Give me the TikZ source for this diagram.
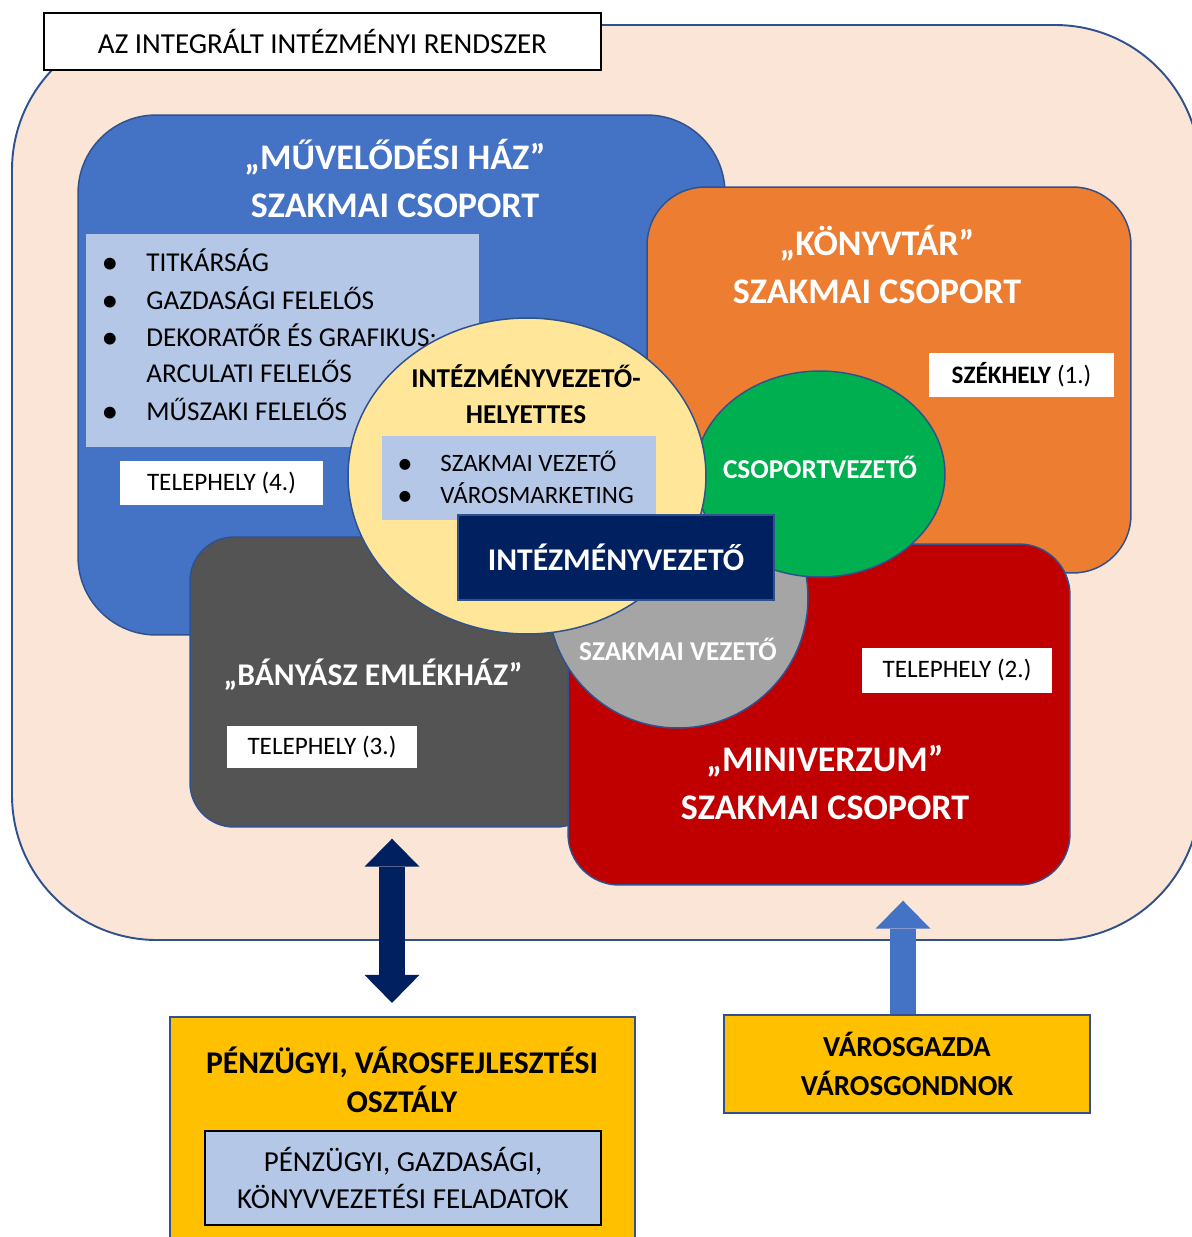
\documentclass[tikz,border=0pt]{standalone}
\usepackage{fontspec}
\setmainfont{Carlito}
\usetikzlibrary{arrows.meta,shapes.geometric,calc}

\definecolor{keret}{HTML}{2F528F}
\definecolor{hatter}{HTML}{FBE5D6}
\definecolor{kek}{HTML}{4472C4}
\definecolor{vilagkek}{HTML}{B4C7E7}
\definecolor{narancs}{HTML}{ED7D31}
\definecolor{sotetszurke}{HTML}{545454}
\definecolor{piros}{HTML}{C00000}
\definecolor{szurke}{HTML}{A5A5A5}
\definecolor{zold}{HTML}{00B050}
\definecolor{sarga}{HTML}{FFE699}
\definecolor{sotetkek}{HTML}{002060}
\definecolor{arany}{HTML}{FFC000}

\tikzset{
  csoport/.style={draw=keret, line width=0.85pt, inner sep=0pt},
  cim/.style={text=white, align=center, inner sep=0pt, font=\fontsize{20.5}{27}\selectfont\bfseries},
  feher/.style={text=white, inner sep=0pt, font=\fontsize{15.5}{19}\selectfont\bfseries},
  telep/.style={fill=white, inner sep=0pt, minimum height=0.88cm, font=\fontsize{14.3}{17}\selectfont},
  lista/.style={fill=vilagkek, inner sep=0pt},
  tetel/.style={anchor=base west, inner sep=0pt},
  pont/.style={inner sep=0pt, font=\fontsize{19}{19}\selectfont},
  kor/.style={ellipse, draw=keret, line width=0.85pt, inner sep=0pt},
  also/.style={fill=arany, draw=keret, line width=1.3pt, inner sep=0pt},
  tompa/.tip={Triangle[width=1.1cm, length=0.56cm, line width=0pt]},
  blokknyil/.style={line width=0.52cm},
}

\begin{document}
\begin{tikzpicture}[x=0.02cm, y=-0.02cm]
\useasboundingbox (0,0) rectangle (1192,1237);

% a rendszer hattere
\draw[keret, fill=hatter, line width=1.1pt, rounded corners=2.9cm] (12,25) rectangle (1200,940);
\node[draw=black, line width=1.1pt, fill=white, inner sep=0pt, minimum width=11.14cm, minimum height=1.14cm,
  font=\fontsize{16.5}{20}\selectfont] (rendszer) at (322.5,41.5) {AZ INTEGRÁLT INTÉZMÉNYI RENDSZER};

% muvelodesi haz
\node[csoport, fill=kek, rounded corners=1.56cm, minimum width=12.94cm, minimum height=10.4cm] (muvhaz) at (401.5,375) {};
\node[cim] (muvcim) at (395,178.5) {„MŰVELŐDÉSI HÁZ”\\SZAKMAI CSOPORT};
\node[lista, minimum width=7.86cm, minimum height=4.26cm] (muvlista) at (282.5,340.5) {};
\foreach \y/\t in {262/TITKÁRSÁG, 300/GAZDASÁGI FELELŐS, 337/DEKORATŐR ÉS GRAFIKUS:, 373/ARCULATI FELELŐS, 411/MŰSZAKI FELELŐS}
  \node[tetel, font=\fontsize{15.5}{19}\selectfont] (mh\y) at (146,\y+9) {\t};
\foreach \y in {262,300,337,411}
  \node[pont] (mhp\y) at (110,\y+4) {•};
\node[telep, minimum width=4.06cm] (telep4) at (221.5,483) {TELEPHELY (4.)};

% konyvtar
\node[csoport, fill=narancs, rounded corners=1.16cm, minimum width=9.68cm, minimum height=7.72cm] (konyvtar) at (889,380) {};
\node[cim] (konyvcim) at (877,264.5) {„KÖNYVTÁR”\\SZAKMAI CSOPORT};
\node[telep, minimum width=3.7cm] (szekhely) at (1021.5,375) {\textbf{SZÉKHELY} (1.)};

% banyasz emlekhaz
\node[csoport, fill=sotetszurke, rounded corners=0.88cm, minimum width=8.2cm, minimum height=5.8cm] (banyasz) at (395,682) {};
\node[cim, font=\fontsize{18}{22}\selectfont\bfseries] (banyaszcim) at (373,675) {„BÁNYÁSZ EMLÉKHÁZ”};
\node[telep, minimum width=3.8cm, minimum height=0.84cm] (telep3) at (322,747) {TELEPHELY (3.)};

% miniverzum
\node[csoport, fill=piros, rounded corners=1.02cm, minimum width=10.04cm, minimum height=6.82cm] (miniverzum) at (819,714.5) {};
\node[cim] (minicim) at (825,782.5) {„MINIVERZUM”\\SZAKMAI CSOPORT};
\node[telep, minimum width=3.8cm, minimum height=0.9cm] (telep2) at (957,670.5) {TELEPHELY (2.)};

% vezetok
\node[kor, fill=szurke, minimum width=5.2cm, minimum height=5.2cm] (szakvez) at (678,598) {};
\node[feher] (szakvezcim) at (678,649) {SZAKMAI VEZETŐ};
\node[kor, fill=zold, minimum width=5cm, minimum height=4.12cm] (csopvez) at (820,474) {};
\node[feher] (csopvezcim) at (820,467) {CSOPORTVEZETŐ};
\node[kor, fill=sarga, minimum width=7.16cm, minimum height=6.32cm] (helyettes) at (527,476) {};
\node[align=center, inner sep=0pt, font=\fontsize{15.5}{20.5}\selectfont\bfseries] (helycim) at (526,394) {INTÉZMÉNYVEZETŐ-\\HELYETTES};
\node[lista, minimum width=5.48cm, minimum height=1.68cm] (hlista) at (519,478) {};
\foreach \y/\t in {463/SZAKMAI VEZETŐ, 495/VÁROSMARKETING}
  \node[tetel, font=\fontsize{14.2}{17}\selectfont] (hl\y) at (440,\y+8) {\t};
\foreach \y in {463,495}
  \node[pont, font=\fontsize{17.5}{17.5}\selectfont] (hlp\y) at (405,\y+3) {•};
\node[draw=keret, line width=1.1pt, fill=sotetkek, text=white, inner sep=0pt, minimum width=6.32cm, minimum height=1.7cm,
  font=\fontsize{18}{22}\selectfont\bfseries] (vezeto) at (616,557.5) {INTÉZMÉNYVEZETŐ};

% also dobozok
\node[also, minimum width=9.3cm, minimum height=4.86cm] (penzugy) at (402.5,1138.5) {};
\node[align=center, inner sep=0pt, font=\fontsize{18}{22.2}\selectfont\bfseries] (penzcim) at (402,1080) {PÉNZÜGYI, VÁROSFEJLESZTÉSI\\OSZTÁLY};
\node[lista, draw=black, line width=0.85pt, minimum width=7.92cm, minimum height=1.88cm, align=center,
  font=\fontsize{16.5}{21.6}\selectfont] (feladat) at (403,1178) {PÉNZÜGYI, GAZDASÁGI,\\KÖNYVVEZETÉSI FELADATOK};
\node[also, minimum width=7.32cm, minimum height=1.96cm, align=center,
  font=\fontsize{16.5}{22.2}\selectfont\bfseries] (varos) at (907,1064) {VÁROSGAZDA\\VÁROSGONDNOK};

% nyilak
\draw[blokknyil, sotetkek, tompa-tompa, shorten <=0.22cm, shorten >=0.26cm]
  ($(banyasz.south)+(-3,0)$) -- ($(banyasz.south |- penzugy.north)+(-3,0)$);
\draw[blokknyil, kek, -tompa, shorten >=0.3cm]
  ($(varos.north)+(-4,0)$) -- ($(varos.north |- miniverzum.south)+(-4,0)$);
\end{tikzpicture}
\end{document}
